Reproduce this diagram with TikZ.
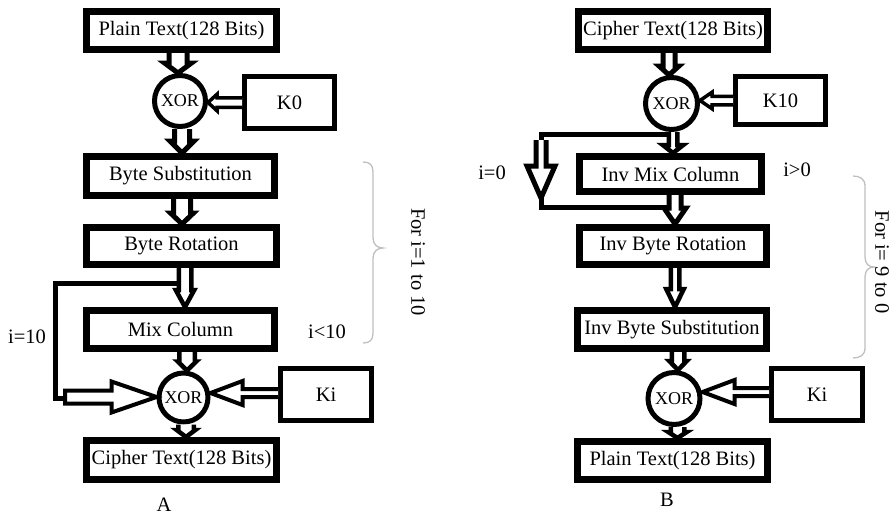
\documentclass[tikz,border=0pt]{standalone}
\usepackage{fontspec}
\setmainfont{Liberation Serif}
\usetikzlibrary{calc}
% hollow arrows: #1 start, #2 end, #3 shaft half width, #4 head half width, #5 head length, #6 stroke
\newcommand\arrD[6]{\draw[line width=#6pt, fill=white, line join=miter] let \p1=#1, \p2=#2 in
  (\x1-#3pt,\y1) -- (\x1-#3pt,\y2+#5pt) -- (\x1-#4pt,\y2+#5pt) -- (\x1,\y2) -- (\x1+#4pt,\y2+#5pt) -- (\x1+#3pt,\y2+#5pt) -- (\x1+#3pt,\y1);}
\newcommand\arrL[6]{\draw[line width=#6pt, fill=white, line join=miter] let \p1=#1, \p2=#2 in
  (\x1,\y1+#3pt) -- (\x2+#5pt,\y1+#3pt) -- (\x2+#5pt,\y1+#4pt) -- (\x2,\y1) -- (\x2+#5pt,\y1-#4pt) -- (\x2+#5pt,\y1-#3pt) -- (\x1,\y1-#3pt);}
\newcommand\arrR[6]{\draw[line width=#6pt, fill=white, line join=miter] let \p1=#1, \p2=#2 in
  (\x1,\y1+#3pt) -- (\x2-#5pt,\y1+#3pt) -- (\x2-#5pt,\y1+#4pt) -- (\x2,\y1) -- (\x2-#5pt,\y1-#4pt) -- (\x2-#5pt,\y1-#3pt) -- (\x1,\y1-#3pt) -- cycle;}
\begin{document}
\begin{tikzpicture}[x=1pt,y=-1pt,
  font=\fontsize{20.5}{24}\selectfont,
  bigbox/.style={draw, line width=7pt, inner sep=0pt, minimum width=190pt, minimum height=38pt},
  kbox/.style={draw, line width=5pt, inner sep=0pt, minimum width=90pt, minimum height=52pt},
  xor/.style={draw, circle, line width=5pt, inner sep=0pt, minimum size=51pt, font=\fontsize{18}{20}\selectfont},
  lbl/.style={inner sep=0pt},
  loopline/.style={line width=5pt, line join=miter},
  brc/.style={draw=black!25, line width=1.3pt}]
\useasboundingbox (0,0) rectangle (896,515);

% ---------- left diagram (A) ----------
\node[bigbox] (PT) at (181.5,30.5) {Plain Text(128 Bits)};
\node[xor] (X1) at (180,101) {XOR};
\node[kbox] (K0) at (289.5,102.5) {K0};
\node[bigbox, minimum width=188pt, minimum height=39pt] (BS) at (180.5,176) {Byte Substitution};
\node[bigbox, minimum height=37pt] (BR) at (181.5,246) {Byte Rotation};
\node[bigbox, minimum width=188pt] (MC) at (180.5,329.5) {Mix Column};
\node[xor, minimum size=49pt] (X2) at (183.5,397.5) {XOR};
\node[kbox, minimum width=91pt] (KiL) at (326,394.5) {Ki};
\node[bigbox, minimum height=39pt] (CT) at (181.5,460) {Cipher Text(128 Bits)};

\node[lbl] (A) at (164,505) {A};
\node[lbl] (ieq10) at (27,337) {i=10};
\node[lbl] (ilt10) at (327,332) {i<10};

\coordinate (la) at (180,283);
\coordinate (lb) at (55,283);
\coordinate (lc) at (55,398);
\coordinate (ld) at (68,398);
\coordinate (ls) at (65,397);
\draw[loopline] (la) -- (lb) -- (lc) -- (ld);

\arrD{([xshift=-3.5pt]PT.south)}{(X1.north)}{9}{13.5}{10}{5}
\arrD{([xshift=2pt]X1.south)}{(BS.north)}{7.5}{12}{12}{5}
\arrD{([xshift=1.5pt]BS.south)}{(BR.north)}{8.5}{11.5}{11}{5}
\arrD{([xshift=3.5pt]BR.south)}{(MC.north)}{6.25}{9.25}{17}{4.5}
\arrD{([xshift=6.5pt]MC.south)}{(X2.north)}{7.75}{9.25}{9}{4.5}
\arrD{([xshift=2.5pt]X2.south)}{(CT.north)}{7.75}{9.25}{7}{4.5}
\arrL{(K0.west)}{(X1.east)}{4.75}{8.25}{9}{3.5}
\arrR{(ls)}{(X2.west)}{6.5}{15.5}{45}{4}
\arrL{([yshift=1.5pt]KiL.west)}{(X2.east)}{4}{12}{32}{4}

\draw[brc] (363,162) .. controls (370,162) and (373,165) .. (373,172) -- (373,238)
  .. controls (373,245) and (378,248) .. (383,248) .. controls (378,248) and (373,251) .. (373,258)
  -- (373,333) .. controls (373,340) and (370,343) .. (363,343);
\node[lbl, rotate=-90] (forA) at (418,262) {For i=1 to 10};

% ---------- right diagram (B) ----------
\node[bigbox, minimum width=189pt] (CT2) at (673,30.5) {Cipher Text(128 Bits)};
\node[xor, minimum size=52pt] (X3) at (671.5,103.5) {XOR};
\node[kbox, minimum height=48pt] (K10) at (780.5,100.5) {K10};
\node[bigbox, minimum width=182pt, minimum height=35pt] (IMC) at (670.5,174) {Inv Mix Column};
\node[bigbox, minimum width=187pt, minimum height=37pt] (IBR) at (673,246) {Inv Byte Rotation};
\node[bigbox, minimum width=189pt] (IBS) at (672,329.5) {Inv Byte Substitution};
\node[xor, minimum size=52pt] (X4) at (674,398.5) {XOR};
\node[kbox, minimum width=91pt] (KiR) at (817,394.5) {Ki};
\node[bigbox] (PT2) at (672.5,460.5) {Plain Text(128 Bits)};

\node[lbl] (B) at (667,500) {B};
\node[lbl] (ieq0) at (492,173) {i=0};
\node[lbl] (igt0) at (797,170) {i>0};

\coordinate (ra) at (668,134.5);
\coordinate (rb) at (541,134.5);
\coordinate (rc) at (541,140);
\coordinate (rd) at (541,198);
\coordinate (re) at (541,207.5);
\coordinate (rf) at (670,207.5);
\draw[loopline] (ra) -- (rb) -- (rc);
\draw[loopline] (rd) -- (re) -- (rf);

\arrD{([xshift=-4pt]CT2.south)}{(X3.north)}{6}{10}{9}{5}
\arrL{(K10.west)}{(X3.east)}{4.25}{8.25}{12}{3.5}
\arrD{([xshift=1.5pt]X3.south)}{(IMC.north)}{4.25}{10.25}{8}{4.5}
\arrD{(rc)}{(rd)}{5}{14}{32}{5}
\arrD{([xshift=4.5pt]IMC.south)}{(IBR.north)}{6}{11}{16}{5}
\arrD{([xshift=2pt]IBR.south)}{(IBS.north)}{4.25}{8.75}{18}{4.5}
\arrD{([xshift=6pt]IBS.south)}{(X4.north)}{6.25}{8.75}{9}{4.5}
\arrD{([xshift=3.5pt]X4.south)}{(PT2.north)}{6.75}{9.25}{6}{4.5}
\arrL{([yshift=2.5pt]KiR.west)}{(X4.east)}{4}{12}{32}{4}

\draw[brc] (853,176) .. controls (860,176) and (865,179) .. (865,186) -- (865,257)
  .. controls (865,264) and (869,267) .. (874,267) .. controls (869,267) and (865,270) .. (865,277)
  -- (865,348) .. controls (865,355) and (860,358) .. (853,358);
\node[lbl, rotate=-90] (forB) at (882,262) {For i= 9 to 0};
\end{tikzpicture}
\end{document}
